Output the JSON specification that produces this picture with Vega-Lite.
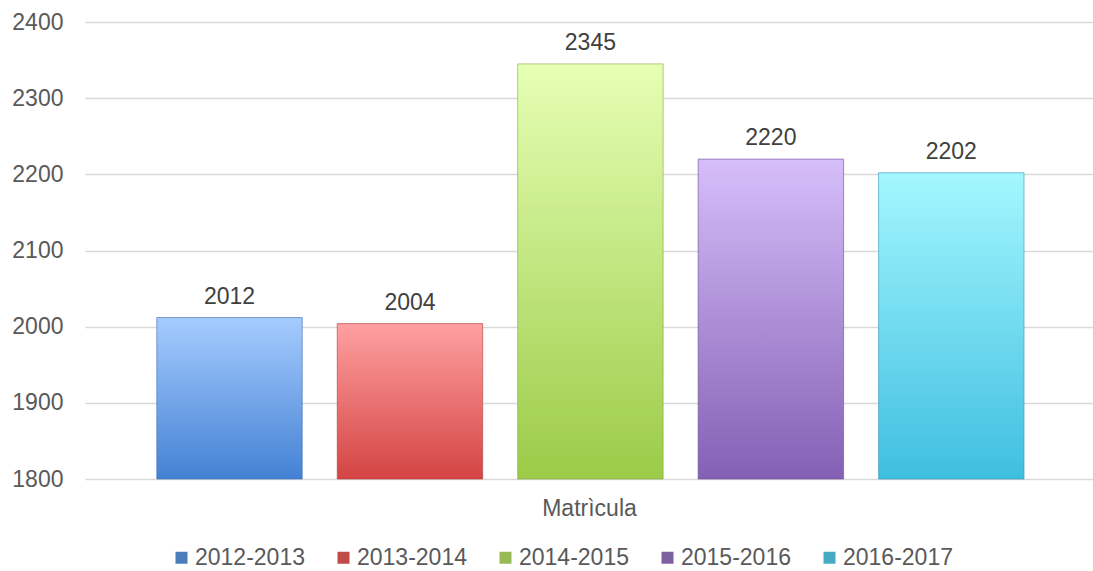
{
  "$schema": "https://vega.github.io/schema/vega-lite/v6.json",
  "width": 1008,
  "height": 457,
  "autosize": {"type": "none"},
  "padding": {"left": 85, "top": 22, "right": 0, "bottom": 92},
  "background": "white",
  "config": {
    "view": {"stroke": null},
    "font": "Liberation Sans"
  },
  "data": {
    "values": [
      {"s": "2012-2013", "v": 2012},
      {"s": "2013-2014", "v": 2004},
      {"s": "2014-2015", "v": 2345},
      {"s": "2015-2016", "v": 2220},
      {"s": "2016-2017", "v": 2202}
    ]
  },
  "encoding": {
    "x": {
      "field": "s",
      "type": "nominal",
      "sort": null,
      "scale": {"paddingInner": 0.194, "paddingOuter": 0.39, "align": 0.51},
      "axis": {
        "labels": false,
        "ticks": false,
        "domain": false,
        "title": "Matrìcula",
        "titleFont": "Liberation Sans",
        "titleFontSize": 23,
        "titleFontWeight": "normal",
        "titleColor": "#595959",
        "titleBaseline": "alphabetic",
        "titlePadding": 36
      }
    }
  },
  "layer": [
    {
      "mark": {"type": "bar", "strokeWidth": 1, "strokeOpacity": 0.6},
      "encoding": {
        "y": {
          "field": "v",
          "type": "quantitative",
          "scale": {"domain": [1800, 2400], "zero": false, "nice": false},
          "axis": {
            "values": [1800, 1900, 2000, 2100, 2200, 2300, 2400],
            "format": "d",
            "grid": true,
            "gridColor": "#D9D9D9",
            "gridWidth": 1.3,
            "domain": false,
            "ticks": false,
            "labelPadding": 22,
            "labelFont": "Liberation Sans",
            "labelFontSize": 23,
            "labelColor": "#595959",
            "title": null
          }
        },
        "y2": {"datum": 1800},
        "fill": {
          "condition": [
            {"test": "datum.s === '2012-2013'", "value": {"gradient": "linear", "x1": 0, "y1": 0, "x2": 0, "y2": 1, "stops": [{"offset": 0, "color": "#A6CCFF"}, {"offset": 1, "color": "#4481D4"}]}},
            {"test": "datum.s === '2013-2014'", "value": {"gradient": "linear", "x1": 0, "y1": 0, "x2": 0, "y2": 1, "stops": [{"offset": 0, "color": "#FFA0A0"}, {"offset": 1, "color": "#D44444"}]}},
            {"test": "datum.s === '2014-2015'", "value": {"gradient": "linear", "x1": 0, "y1": 0, "x2": 0, "y2": 1, "stops": [{"offset": 0, "color": "#E6FFB5"}, {"offset": 1, "color": "#9BCB48"}]}},
            {"test": "datum.s === '2015-2016'", "value": {"gradient": "linear", "x1": 0, "y1": 0, "x2": 0, "y2": 1, "stops": [{"offset": 0, "color": "#D6BEFA"}, {"offset": 1, "color": "#8460B4"}]}},
            {"test": "datum.s === '2016-2017'", "value": {"gradient": "linear", "x1": 0, "y1": 0, "x2": 0, "y2": 1, "stops": [{"offset": 0, "color": "#A4F7FE"}, {"offset": 1, "color": "#3FBEE0"}]}}
          ],
          "field": "s",
          "type": "nominal",
          "sort": null,
          "scale": {
            "domain": ["2012-2013", "2013-2014", "2014-2015", "2015-2016", "2016-2017"],
            "range": ["#4A7EBB", "#BE4B48", "#98B954", "#7D60A0", "#46AAC5"]
          },
          "legend": {
            "title": null,
            "orient": "none",
            "direction": "horizontal",
            "legendX": 85,
            "legendY": 524,
            "symbolType": "square",
            "symbolSize": 144,
            "symbolStrokeWidth": 0,
            "labelFont": "Liberation Sans",
            "labelFontSize": 23,
            "labelColor": "#595959",
            "labelOffset": 2,
            "columnPadding": 27,
            "labelLimit": 300
          }
        },
        "stroke": {
          "condition": [
            {"test": "datum.s === '2012-2013'", "value": "#3A6DB0"},
            {"test": "datum.s === '2013-2014'", "value": "#B03A3A"},
            {"test": "datum.s === '2014-2015'", "value": "#84A83C"},
            {"test": "datum.s === '2015-2016'", "value": "#6A4C94"},
            {"test": "datum.s === '2016-2017'", "value": "#3098B8"}
          ],
          "value": "#888888"
        }
      }
    },
    {
      "mark": {
        "type": "text",
        "baseline": "alphabetic",
        "dy": -14,
        "font": "Liberation Sans",
        "fontSize": 23,
        "color": "#404040"
      },
      "encoding": {
        "y": {"field": "v", "type": "quantitative"},
        "text": {"field": "v", "type": "quantitative", "format": "d"}
      }
    }
  ]
}
